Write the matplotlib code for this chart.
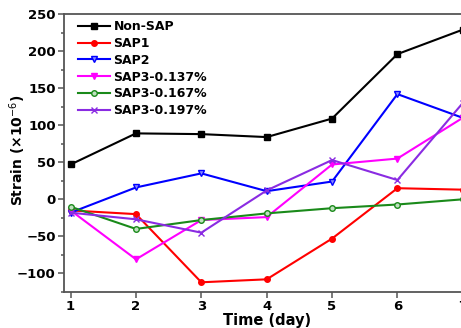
import matplotlib
matplotlib.use("Agg")
import matplotlib.pyplot as plt
from matplotlib.ticker import MultipleLocator

#Data
days = [1, 2, 3, 4, 5, 6, 7]
non_sap = [47, 89, 88, 84, 109, 196, 229]
sap1 = [-15, -20, -112, -108, -53, 15, 13]
sap2 = [-18, 16, 35, 11, 24, 142, 110]
sap3_137 = [-15, -81, -28, -24, 47, 55, 110]
sap3_167 = [-10, -40, -28, -19, -12, -7, 0]
sap3_197 = [-18, -27, -45, 12, 53, 26, 130]

fig = plt.figure(figsize=(4.61, 3.28), dpi=100)
ax = fig.add_axes([0.139, 0.110, 0.879, 0.847])

lw = 1.5
ms = 4
ax.plot(days, non_sap, color="black", marker="s", ms=ms, lw=lw, label="Non-SAP")
ax.plot(days, sap1, color="red", marker="o", ms=ms, lw=lw, label="SAP1")
ax.plot(days, sap2, color="blue", marker="v", ms=ms, lw=lw, mfc="#8888ff", label="SAP2")
ax.plot(days, sap3_137, color="magenta", marker="v", ms=ms, lw=lw, label="SAP3-0.137%")
ax.plot(days, sap3_167, color="#1a8a1a", marker="o", ms=ms, lw=lw, mfc="#bfe0bf", label="SAP3-0.167%")
ax.plot(days, sap3_197, color="#8a2be2", marker="x", ms=ms, lw=lw, label="SAP3-0.197%")

ax.set_xlim(0.9, 7.1)
ax.set_ylim(-125, 250)
ax.xaxis.set_major_locator(MultipleLocator(1))
ax.yaxis.set_major_locator(MultipleLocator(50))
ax.yaxis.set_minor_locator(MultipleLocator(25))

for s in ["left", "bottom", "top"]:
    ax.spines[s].set_color("#555555")
    ax.spines[s].set_linewidth(1.3)
ax.spines["right"].set_visible(False)

ax.tick_params(which="both", direction="out", color="#555555", width=1.1)
ax.tick_params(which="major", length=4, labelsize=9.5, pad=2)
ax.tick_params(which="minor", length=2.5)
for lab in ax.get_xticklabels() + ax.get_yticklabels():
    lab.set_fontweight("bold")

ax.set_xlabel("Time (day)", fontsize=10.5, fontweight="bold", labelpad=0)
ax.set_ylabel("Strain (\u00d710$^{-6}$)", fontsize=10, fontweight="bold")
ax.yaxis.set_label_coords(-0.09, 0.51)

leg = ax.legend(loc="upper left", frameon=False, prop={"weight": "bold", "size": 9},
                handlelength=2.5, labelspacing=0.3, borderaxespad=0.2,
                borderpad=0.3, handletextpad=0.3, bbox_to_anchor=(0.02, 1.0))

fig.savefig("out.png", dpi=100)
